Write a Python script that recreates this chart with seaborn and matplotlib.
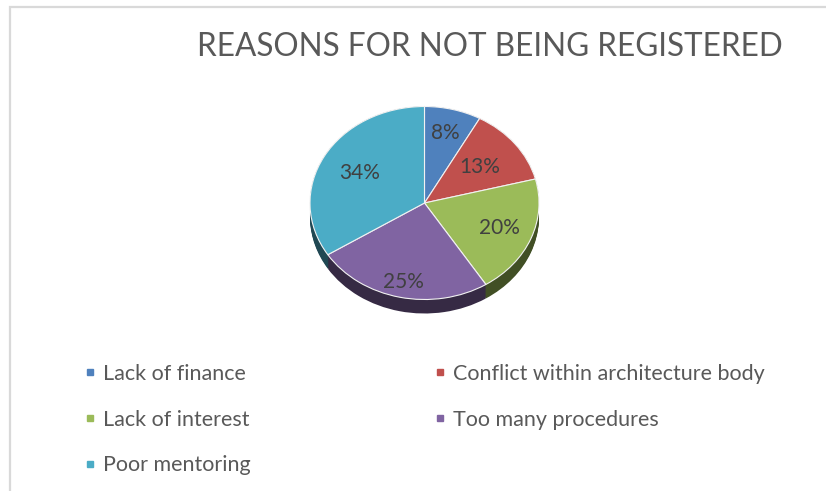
import matplotlib
matplotlib.use("Agg")
import matplotlib.pyplot as plt
from matplotlib.lines import Line2D
from matplotlib.patches import Rectangle
import seaborn as sns
import numpy as np

# ---- data ----
categories = ["Lack of finance", "Conflict within architecture body",
              "Lack of interest", "Too many procedures", "Poor mentoring"]
values = [8, 13, 20, 25, 34]
title = "REASONS FOR NOT BEING REGISTERED"

# ---- style ----
sns.set_theme(style="white")
plt.rcParams["font.family"] = ["Lato", "DejaVu Sans"]
top_colors = sns.color_palette(["#4F81BD", "#C0504D", "#9BBB59", "#8064A2", "#4BACC6"])
side_colors = [tuple(c * 0.42 for c in col) for col in top_colors]
text_color = "#595959"
label_dist = [0.745, 0.606, 0.70, 0.836, 0.648]  # per-label radial placement (style)

W, H = 826, 491
fig = plt.figure(figsize=(W / 100, H / 100), dpi=100)
fig.patch.set_facecolor("white")

# frame of the chart area
fig.patches.append(Rectangle((10 / W, -0.05), 1.1, (H - 7.5) / H + 0.05,
                             transform=fig.transFigure, fill=False,
                             edgecolor="#d9d9d9", linewidth=1.6, zorder=0))

# pie geometry in pixels
cx, cy = 424.5, 203.0
rx, ry = 114.5, 96.5
depth_px = 14.0
depth = depth_px / ry
pad = 1.05
left_px = cx - rx * pad
width_px = 2 * rx * pad
top_px = cy - ry * pad
height_px = ry * (2 * pad + depth)
ax = fig.add_axes([left_px / W, (H - top_px - height_px) / H, width_px / W, height_px / H])

# side (extrusion)
for off in np.linspace(depth, 0.0, 15):
    ax.pie(values, colors=side_colors, startangle=90, counterclock=False,
           center=(0, -off), radius=1.0, frame=True,
           wedgeprops=dict(linewidth=0))
# top face
wedges, texts, autotexts = ax.pie(
    values, colors=top_colors, startangle=90, counterclock=False,
    radius=1.0, frame=True, autopct="%1.0f%%", pctdistance=0.7,
    wedgeprops=dict(edgecolor="#f2f2f2", linewidth=0.8),
    textprops=dict(color="#404040", fontsize=15))
for w, t, d in zip(wedges, autotexts, label_dist):
    mid = np.deg2rad((w.theta1 + w.theta2) / 2)
    t.set_position((d * np.cos(mid), d * np.sin(mid)))
ax.set_aspect("auto")
ax.set_xlim(-pad, pad)
ax.set_ylim(-pad - depth, pad)
ax.axis("off")

fig.text(490 / W, 1 - 47 / H, title, ha="center", va="center",
         fontsize=22.7, color=text_color)

# legend (row-major, two columns)
handles = [Line2D([0], [0], marker="s", linestyle="none", markersize=5,
                  markerfacecolor=c, markeredgecolor=c) for c in top_colors]
kw = dict(frameon=False, fontsize=15.5, labelcolor=text_color, handlelength=0.6,
          handletextpad=0.26, labelspacing=1.19, borderaxespad=0, borderpad=0)
leg1 = fig.legend([handles[i] for i in (0, 2, 4)], [categories[i] for i in (0, 2, 4)],
                  loc="upper left", bbox_to_anchor=(84 / W, 1 - 364 / H), **kw)
leg2 = fig.legend([handles[i] for i in (1, 3)], [categories[i] for i in (1, 3)],
                  loc="upper left", bbox_to_anchor=(434 / W, 1 - 364 / H), **kw)

fig.savefig("out.png", dpi=100, facecolor="white")
